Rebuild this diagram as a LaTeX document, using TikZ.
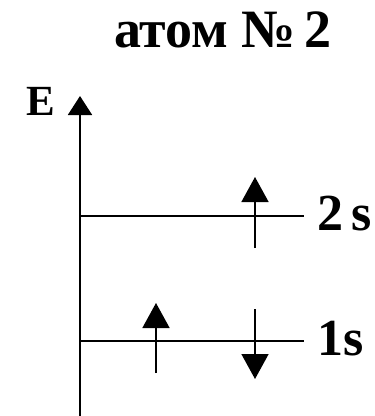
\documentclass[tikz,border=0pt]{standalone}
\usepackage{fontspec}
\setmainfont{Liberation Serif}
\usetikzlibrary{arrows.meta}
\begin{document}
\begin{tikzpicture}[x=1pt,y=-1pt,
  lbl/.style={font=\bfseries\fontsize{52}{56}\selectfont, inner sep=0pt, anchor=base west},
  level/.style={line width=2pt},
  axis/.style={line width=2pt, -{Triangle[length=19pt,width=24pt]}},
  spin/.style={line width=1.6pt, -{Triangle[length=25pt,width=27pt]}}]
\useasboundingbox (0,0) rectangle (375,416);
% title
\node[lbl, anchor=base, font=\bfseries\fontsize{54}{58}\selectfont] (title) at (223,47) {атом №\,2};
% axis
\coordinate (a0) at (80,416);
\coordinate (a1) at (80,96);
\draw[axis] (a0) -- (a1);
\node[font=\bfseries\fontsize{43}{46}\selectfont, inner sep=0pt, anchor=base] (E) at (41,115) {E};
% levels
\coordinate (l2a) at (80,216);
\coordinate (l2b) at (304,216);
\draw[level] (l2a) -- (l2b);
\coordinate (l1a) at (80,341);
\coordinate (l1b) at (304,341);
\draw[level] (l1a) -- (l1b);
\node[lbl] (s2) at (317,230) {2\,s};
\node[lbl] (s1) at (317,355) {1s};
% electrons
\coordinate (e2a) at (255,248);
\coordinate (e2b) at (255,177);
\draw[spin] (e2a) -- (e2b);
\coordinate (e1a) at (156,373);
\coordinate (e1b) at (156,303);
\draw[spin] (e1a) -- (e1b);
\coordinate (e3a) at (255,309);
\coordinate (e3b) at (255,379);
\draw[spin] (e3a) -- (e3b);
\end{tikzpicture}
\end{document}
